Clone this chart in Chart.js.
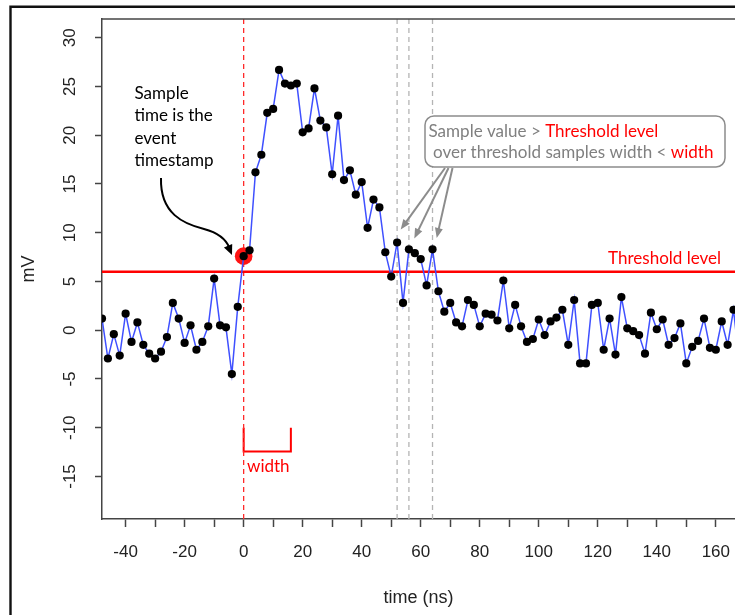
<!DOCTYPE html>
<html><head><meta charset="utf-8">
<script src="https://cdn.jsdelivr.net/npm/chart.js@4.4.0/dist/chart.umd.min.js"></script>
<style>html,body{margin:0;padding:0;background:#fff;}#wrap{width:735px;height:615px;position:relative;overflow:hidden;}</style>
</head><body><div id="wrap"><canvas id="c" width="735" height="615"></canvas></div>
<script>
// ---- data ----
const timesNs = [-48,-46,-44,-42,-40,-38,-36,-34,-32,-30,-28,-26,-24,-22,-20,-18,-16,-14,-12,-10,-8,-6,-4,-2,
  0,2,4,6,8,10,12,14,16,18,20,22,24,26,28,30,32,34,36,38,40,42,44,46,48,50,52,54,56,58,60,62,64,66,68,70,
  72,74,76,78,80,82,84,86,88,90,92,94,96,98,100,102,104,106,108,110,112,114,116,118,120,122,124,126,128,
  130,132,134,136,138,140,142,144,146,148,150,152,154,156,158,160,162,164,166,168];
const signalMv = [1.2,-2.9,-0.4,-2.6,1.7,-1.2,0.8,-1.5,-2.4,-2.9,-2.2,-0.7,2.8,1.2,-1.3,0.5,-2.0,-1.2,0.4,5.3,0.5,0.3,-4.5,2.4,
  7.6,8.2,16.2,18.0,22.3,22.7,26.7,25.3,25.1,25.3,20.3,20.7,24.8,21.5,20.8,16.0,22.0,15.4,16.4,13.9,15.2,10.5,13.4,12.6,8.0,5.5,9.0,2.8,8.3,7.9,7.3,4.6,8.3,4.0,1.9,2.8,
  0.8,0.4,3.1,2.6,0.4,1.7,1.6,1.0,5.1,0.2,2.6,0.4,-1.2,-0.9,1.1,-0.5,0.9,1.3,2.1,-1.5,3.1,-3.4,-3.4,2.6,2.8,-2.0,1.2,-2.5,3.4,
  0.2,-0.1,-0.5,-2.4,1.8,0.1,1.1,-1.5,-0.8,0.7,-3.4,-1.7,-1.1,1.2,-1.8,-2.0,0.9,-1.5,2.1,-3.4];
const thresholdMv = 6;
const eventTimeNs = 0;
const eventMv = 7.6;
const widthNs = 16;
const widthBracketMv = [-10, -12.45];
const overThresholdPeaksNs = [52, 56, 64];
const xRange = [-48, 166.5];
const yRange = [-19.36, 31.92];
const xTickValues = [-40,-30,-20,-10,0,10,20,30,40,50,60,70,80,90,100,110,120,130,140,150,160];
const yTickValues = [-15,-10,-5,0,5,10,15,20,25,30];
const xTitle = 'time (ns)';
const yTitle = 'mV';

// ---- datasets built from the arrays ----
const signalPts = timesNs.map((t, i) => ({x: t, y: signalMv[i]}));
const vline = (t) => [{x: t, y: yRange[0]}, {x: t, y: yRange[1]}];

const datasets = [
  {data: signalPts, borderColor: '#3f50ff', borderWidth: 1.5, pointRadius: 4.1, pointBackgroundColor: '#000',
   pointBorderWidth: 0, tension: 0, order: 0},
  {data: [{x: eventTimeNs, y: eventMv}], showLine: false, pointRadius: 8.8, pointBackgroundColor: '#ff1414',
   pointBorderWidth: 0, order: 2},
  {data: [{x: xRange[0], y: thresholdMv}, {x: 175, y: thresholdMv}], borderColor: '#ff0000', borderWidth: 2.5,
   pointRadius: 0, order: 1},
  {data: vline(eventTimeNs), borderColor: '#ff2a2a', borderWidth: 1.3, borderDash: [5, 4], pointRadius: 0, order: 3},
  ...overThresholdPeaksNs.map(t => ({data: vline(t), borderColor: '#b4b4b4', borderWidth: 1.3, borderDash: [5, 4],
   pointRadius: 0, order: 3})),
  {data: [{x: eventTimeNs, y: widthBracketMv[0]}, {x: eventTimeNs, y: widthBracketMv[1]},
          {x: eventTimeNs + widthNs, y: widthBracketMv[1]}, {x: eventTimeNs + widthNs, y: widthBracketMv[0]}],
   borderColor: '#ff0000', borderWidth: 2, pointRadius: 0, order: 3}
];

function fitSize(ctx, text, family, target) {
  ctx.font = '100px ' + family;
  return 100 * target / ctx.measureText(text).width;
}
function arrowHead(ctx, x1, y1, x2, y2, len, half, color) {
  const ang = Math.atan2(y2 - y1, x2 - x1);
  ctx.fillStyle = color;
  ctx.beginPath();
  ctx.moveTo(x2, y2);
  ctx.lineTo(x2 - len * Math.cos(ang) + half * Math.sin(ang), y2 - len * Math.sin(ang) - half * Math.cos(ang));
  ctx.lineTo(x2 - len * Math.cos(ang) - half * Math.sin(ang), y2 - len * Math.sin(ang) + half * Math.cos(ang));
  ctx.closePath();
  ctx.fill();
}
function arrow(ctx, x1, y1, x2, y2, color, lw) {
  const ang = Math.atan2(y2 - y1, x2 - x1);
  ctx.strokeStyle = color; ctx.lineWidth = lw;
  ctx.beginPath(); ctx.moveTo(x1, y1); ctx.lineTo(x2 - 6 * Math.cos(ang), y2 - 6 * Math.sin(ang)); ctx.stroke();
  arrowHead(ctx, x1, y1, x2, y2, 10, 4, color);
}

const decor = {
  id: 'decor',
  beforeDraw(chart) {
    const ctx = chart.ctx;
    ctx.save(); ctx.fillStyle = '#fff'; ctx.fillRect(0, 0, chart.width, chart.height); ctx.restore();
  },
  afterDraw(chart) {
    const {ctx, chartArea: a} = chart;
    ctx.save();
    // outer frame
    ctx.strokeStyle = '#111'; ctx.lineWidth = 2.4;
    ctx.beginPath(); ctx.moveTo(10.5, 615); ctx.lineTo(10.5, 6.7); ctx.lineTo(735, 6.7); ctx.stroke();
    // top of plot box
    ctx.strokeStyle = '#444'; ctx.lineWidth = 1.5;
    ctx.beginPath(); ctx.moveTo(a.left, a.top); ctx.lineTo(a.right, a.top); ctx.stroke();

    const fam = 'Lato';
    const s = fitSize(ctx, 'Sample value > Threshold level', fam, 230);
    ctx.font = s + 'px ' + fam;
    ctx.textBaseline = 'middle'; ctx.textAlign = 'left';

    // black note
    ctx.fillStyle = '#000';
    ['Sample', 'time is the', 'event', 'timestamp'].forEach((l, i) => ctx.fillText(l, 134.5, 93.5 + i * 22.3));

    // callout box
    const bx = 425, by = 116, bw = 300, bh = 51, r = 9;
    ctx.strokeStyle = '#8c8c8c'; ctx.lineWidth = 1.5;
    ctx.beginPath();
    ctx.moveTo(bx + r, by); ctx.lineTo(bx + bw - r, by); ctx.arcTo(bx + bw, by, bx + bw, by + r, r);
    ctx.lineTo(bx + bw, by + bh - r); ctx.arcTo(bx + bw, by + bh, bx + bw - r, by + bh, r);
    ctx.lineTo(bx + r, by + bh); ctx.arcTo(bx, by + bh, bx, by + bh - r, r);
    ctx.lineTo(bx, by + r); ctx.arcTo(bx, by, bx + r, by, r); ctx.closePath();
    ctx.fillStyle = '#fff'; ctx.fill(); ctx.stroke();

    let p1 = 'Sample value > ';
    ctx.fillStyle = '#808080'; ctx.fillText(p1, 428.5, 131.5);
    ctx.fillStyle = '#ff0000'; ctx.fillText('Threshold level', 428.5 + ctx.measureText(p1).width, 131.5);
    let p2 = 'over threshold samples width < ';
    ctx.fillStyle = '#808080'; ctx.fillText(p2, 433, 152.5);
    ctx.fillStyle = '#ff0000'; ctx.fillText('width', 433 + ctx.measureText(p2).width, 152.5);

    // red labels
    ctx.fillStyle = '#ff0000';
    ctx.fillText('Threshold level', 608, 258.5);
    ctx.fillText('width', 247, 467);

    // gray arrows
    arrow(ctx, 445, 168, 400.7, 229.5, '#8c8c8c', 2);
    arrow(ctx, 448.5, 168, 414.3, 238.5, '#8c8c8c', 2);
    arrow(ctx, 452.5, 168, 436.7, 238, '#8c8c8c', 2);

    // curved black arrow
    ctx.strokeStyle = '#000'; ctx.lineWidth = 2;
    ctx.beginPath();
    ctx.moveTo(161, 178);
    ctx.bezierCurveTo(160, 214, 184, 224, 204, 229);
    ctx.bezierCurveTo(219, 233, 226, 239, 229.5, 248);
    ctx.stroke();
    arrowHead(ctx, 226, 241, 232, 255, 10, 4.5, '#000');
    ctx.restore();
  }
};

Chart.defaults.font.family = '"Liberation Sans", Arial, sans-serif';
Chart.defaults.color = '#222';

new Chart(document.getElementById('c'), {
  type: 'line',
  data: {datasets},
  plugins: [decor],
  options: {
    responsive: false, animation: false, devicePixelRatio: 1,
    layout: {autoPadding: false, padding: {left: 0, right: 0, top: 19, bottom: 0}},
    plugins: {legend: {display: false}, tooltip: {enabled: false}},
    scales: {
      x: {
        type: 'linear', min: xRange[0], max: xRange[1],
        afterBuildTicks: (sc) => { sc.ticks = xTickValues.map(v => ({value: v})); },
        afterFit: (sc) => { sc.height = 96; sc.paddingLeft = 0; sc.paddingRight = 0; },
        ticks: {autoSkip: false, maxRotation: 0, minRotation: 0, padding: 15, font: {size: 17},
          callback: (v) => (v % 20 === 0 ? String(v) : '')},
        grid: {drawOnChartArea: false, drawTicks: true, tickLength: 8, color: '#444', tickWidth: 1.5},
        border: {display: true, color: '#444', width: 1.5},
        title: {display: true, text: xTitle, font: {size: 18}, color: '#222', padding: {top: 0, bottom: 6}}
      },
      y: {
        type: 'linear', min: yRange[0], max: yRange[1],
        afterBuildTicks: (sc) => { sc.ticks = yTickValues.map(v => ({value: v})); },
        afterFit: (sc) => { sc.width = 102; sc.paddingTop = 0; sc.paddingBottom = 0; },
        ticks: {autoSkip: false, minRotation: 90, maxRotation: 90, crossAlign: 'center', padding: 12, font: {size: 17}},
        grid: {drawOnChartArea: false, drawTicks: true, tickLength: 7, color: '#444', tickWidth: 1.5},
        border: {display: true, color: '#444', width: 1.5},
        title: {display: true, text: yTitle, font: {size: 18}, color: '#222', padding: {top: 18, bottom: 0}}
      }
    }
  }
});
</script></body></html>
